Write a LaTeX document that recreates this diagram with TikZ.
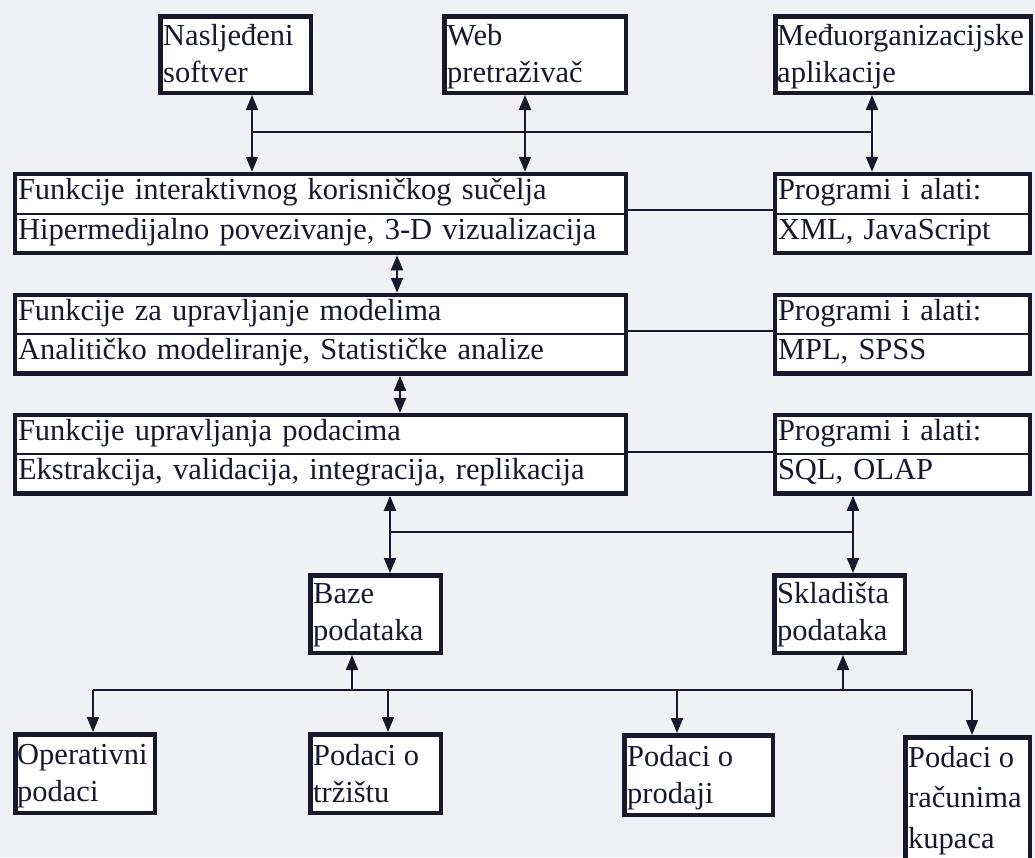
\documentclass[tikz,border=0pt]{standalone}
\usepackage{fontspec}
\setmainfont{Liberation Serif}
\usetikzlibrary{arrows.meta,fit}
\definecolor{bgc}{RGB}{239,241,245}
\definecolor{ink}{RGB}{22,24,44}
\begin{document}
\begin{tikzpicture}[x=1pt,y=-1pt,
  >={Triangle[length=15pt,width=12pt]},
  every node/.style={font=\fontsize{30.5}{37}\selectfont, text=ink},
  box/.style={draw=ink, line width=4.5pt, fill=white, anchor=north west, inner sep=0pt},
  row/.style={draw=ink, line width=2pt, fill=white, anchor=north west, outer sep=0pt, inner xsep=3pt, inner ysep=0pt, text height=20pt, text depth=8pt, align=left},
  frame/.style={draw=ink, line width=4.5pt, inner sep=0pt},
  lbl/.style={anchor=north west, inner sep=0pt, align=left},
  conn/.style={draw=ink, line width=2pt},
  arr/.style={conn, ->},
  darr/.style={conn, <->},
]
\fill[bgc] (0,0) rectangle (1035,857);
\useasboundingbox (0,0) rectangle (1035,857);
\clip (0,0) rectangle (1035,857);

% top boxes
\node[box, minimum width=150.5pt, minimum height=76.5pt] (nas) at (158,14) {};
\node[lbl] (nast) at (163,24) {Nasljeđeni\\softver};
\node[box, minimum width=181.5pt, minimum height=76.5pt] (web) at (442,14) {};
\node[lbl] (webt) at (447,24) {Web\\pretraživač};
\node[box, minimum width=255.5pt, minimum height=76.5pt] (med) at (773,14) {};
\node[lbl] (medt) at (777,24) {Međuorganizacijske\\aplikacije};

% level 1
\node[row, text width=605pt, minimum height=39.5pt] (f1a) at (15,174) {Funkcije interaktivnog korisničkog sučelja};
\node[row, text width=605pt, minimum height=39.5pt] (f1b) at (15,213.5) {Hipermedijalno povezivanje, 3-D vizualizacija};
\node[frame, fit=(f1a)(f1b)] (f1) {};
\node[row, text width=249pt, minimum height=39.5pt] (p1a) at (775,174) {Programi i alati:};
\node[row, text width=249pt, minimum height=39.5pt] (p1b) at (775,213.5) {XML, JavaScript};
\node[frame, fit=(p1a)(p1b)] (p1) {};

% level 2
\node[row, text width=605pt, minimum height=39.25pt] (f2a) at (15,295) {Funkcije za upravljanje modelima};
\node[row, text width=605pt, minimum height=39.25pt] (f2b) at (15,334.25) {Analitičko modeliranje, Statističke analize};
\node[frame, fit=(f2a)(f2b)] (f2) {};
\node[row, text width=249pt, minimum height=39.25pt] (p2a) at (775,295) {Programi i alati:};
\node[row, text width=249pt, minimum height=39.25pt] (p2b) at (775,334.25) {MPL, SPSS};
\node[frame, fit=(p2a)(p2b)] (p2) {};

% level 3
\node[row, text width=605pt, minimum height=39.25pt] (f3a) at (15,415) {Funkcije upravljanja podacima};
\node[row, text width=605pt, minimum height=39.25pt] (f3b) at (15,454.25) {Ekstrakcija, validacija, integracija, replikacija};
\node[frame, fit=(f3a)(f3b)] (f3) {};
\node[row, text width=249pt, minimum height=39.25pt] (p3a) at (775,415) {Programi i alati:};
\node[row, text width=249pt, minimum height=39.25pt] (p3b) at (775,454.25) {SQL, OLAP};
\node[frame, fit=(p3a)(p3b)] (p3) {};

% storage boxes
\node[box, minimum width=130.5pt, minimum height=77.5pt] (baze) at (308,573) {};
\node[lbl] (bazet) at (313,583) {Baze\\podataka};
\node[box, minimum width=130.5pt, minimum height=77.5pt] (sklad) at (772,573) {};
\node[lbl] (skladt) at (777,582) {Skladišta\\podataka};

% bottom boxes
\node[box, minimum width=139.5pt, minimum height=78.5pt] (oper) at (13,732) {};
\node[lbl] (opert) at (17,744) {Operativni\\podaci};
\node[box, minimum width=130.5pt, minimum height=78.5pt] (trz) at (308,732) {};
\node[lbl] (trzt) at (313,744) {Podaci o\\tržištu};
\node[box, minimum width=148.5pt, minimum height=79.5pt] (prod) at (622,733) {};
\node[lbl] (prodt) at (627,745) {Podaci o\\prodaji};
\node[box, minimum width=124.5pt, minimum height=160pt] (rac) at (903,735) {};
\node[lbl, font=\fontsize{30.5}{40.5}\selectfont] (ract) at (908,746) {Podaci o\\računima\\kupaca};

% helper coordinates
\coordinate (xa) at (252,0);
\coordinate (xb) at (525,0);
\coordinate (xc) at (872,0);
\coordinate (xd) at (397,0);
\coordinate (xe) at (400,0);
\coordinate (xf) at (390,0);
\coordinate (xg) at (853,0);
\coordinate (xh) at (352,0);
\coordinate (xi) at (843,0);
\coordinate (xj) at (93,0);
\coordinate (xk) at (388,0);
\coordinate (xl) at (677,0);
\coordinate (xm) at (972,0);
\coordinate (ya) at (0,132);
\coordinate (yb) at (0,532);
\coordinate (yc) at (0,690);

% connectors top
\draw[conn] (xa |- ya) -- (xc |- ya);
\draw[darr] (nas.south -| xa) -- (f1.north -| xa);
\draw[darr] (web.south -| xb) -- (f1.north -| xb);
\draw[darr] (med.south -| xc) -- (p1.north -| xc);

% side connectors
\draw[conn] ([yshift=3.5pt]f1a.south east) -- ([yshift=3.5pt]p1a.south west);
\draw[conn] ([yshift=3pt]f2a.south east) -- ([yshift=3pt]p2a.south west);
\draw[conn] ([yshift=2pt]f3a.south east) -- ([yshift=2pt]p3a.south west);

% vertical between levels
\draw[darr] (f1.south -| xd) -- (f2.north -| xd);
\draw[darr] (f2.south -| xe) -- (f3.north -| xe);

% to storage
\draw[conn] (xf |- yb) -- (xg |- yb);
\draw[darr] (f3.south -| xf) -- (baze.north -| xf);
\draw[darr] (p3.south -| xg) -- (sklad.north -| xg);

% bottom bus
\draw[conn] (xj |- yc) -- (xm |- yc);
\draw[arr] (xh |- yc) -- (baze.south -| xh);
\draw[arr] (xi |- yc) -- (sklad.south -| xi);
\draw[arr] (xj |- yc) -- (oper.north -| xj);
\draw[arr] (xk |- yc) -- (trz.north -| xk);
\draw[arr] (xl |- yc) -- (prod.north -| xl);
\draw[arr] (xm |- yc) -- (rac.north -| xm);
\end{tikzpicture}
\end{document}
